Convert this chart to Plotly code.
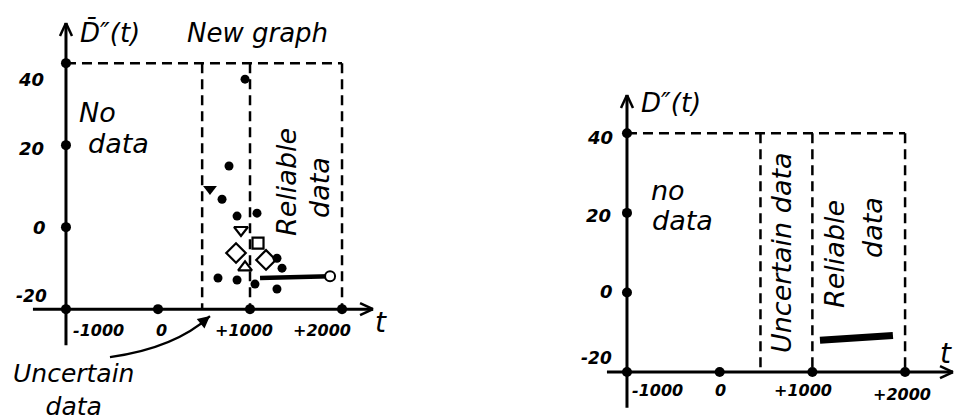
import plotly.graph_objects as go

# ---------------- data ----------------
tick_t = [-1000, 0, 1000, 2000]
tick_t_labels = ["-1000", "0", "+1000", "+2000"]
tick_d = [0, 20, 40]
tick_d_labels = ["0", "20", "40"]
base_d = -20
top_d = 40

# left panel (New graph)
left_bounds = [480, 1000, 2000]
left_dot_t = [946, 772, 696, 859, 1076, 1293, 1348, 652, 859, 1054, 1293]
left_dot_d = [36.1, 14.9, 6.8, 2.7, 3.4, -7.6, -10.0, -12.4, -12.9, -13.9, -15.1]
left_tri_fill_t = [565]
left_tri_fill_d = [9.3]
left_tri_down_t = [902]
left_tri_down_d = [-0.7]
left_square_t = [1087]
left_square_d = [-3.9]
left_diamond_t = [848, 1174]
left_diamond_d = [-6.3, -8.0]
left_tri_up_t = [946]
left_tri_up_d = [-9.8]
left_line_t = [1109, 1870]
left_line_d = [-12.4, -12.0]

# right panel
right_bounds = [440, 1000, 2000]
right_line_t = [1082, 1869]
right_line_d = [-12.0, -10.8]

W, H = 962, 419
FONT = "DejaVu Sans"
INK = "black"

fig = go.Figure()


def add_panel(xa, ya):
    fig.add_trace(go.Scatter(x=tick_t, y=[base_d] * len(tick_t), mode="markers",
                             marker=dict(size=10, color=INK), xaxis=xa, yaxis=ya,
                             showlegend=False, hoverinfo="skip"))
    fig.add_trace(go.Scatter(x=[tick_t[0]] * len(tick_d), y=tick_d, mode="markers",
                             marker=dict(size=10, color=INK), xaxis=xa, yaxis=ya,
                             showlegend=False, hoverinfo="skip"))


def dashed_box(xa, ya, bounds):
    fig.add_trace(go.Scatter(x=[tick_t[0], bounds[-1]], y=[top_d, top_d], mode="lines",
                             line=dict(color=INK, width=2.5, dash="10px,6px"),
                             xaxis=xa, yaxis=ya, showlegend=False, hoverinfo="skip"))
    for b in bounds:
        fig.add_trace(go.Scatter(x=[b, b], y=[top_d, base_d], mode="lines",
                                 line=dict(color=INK, width=2.5, dash="10px,6px"),
                                 xaxis=xa, yaxis=ya, showlegend=False, hoverinfo="skip"))


# ---- left panel ----
dashed_box("x", "y", left_bounds)
add_panel("x", "y")
fig.add_trace(go.Scatter(x=left_line_t, y=left_line_d, mode="lines",
                         line=dict(color=INK, width=4.5), showlegend=False, hoverinfo="skip"))
fig.add_trace(go.Scatter(x=left_line_t[-1:], y=left_line_d[-1:], mode="markers",
                         marker=dict(symbol="circle", size=10, color="white",
                                     line=dict(color=INK, width=2)),
                         showlegend=False, hoverinfo="skip"))
fig.add_trace(go.Scatter(x=left_dot_t, y=left_dot_d, mode="markers",
                         marker=dict(size=9, color=INK), showlegend=False, hoverinfo="skip"))
fig.add_trace(go.Scatter(x=left_tri_fill_t, y=left_tri_fill_d, mode="markers",
                         marker=dict(symbol="triangle-down", size=12, color=INK),
                         showlegend=False, hoverinfo="skip"))
open_sets = [(left_tri_down_t, left_tri_down_d, "triangle-down-open", 12),
             (left_square_t, left_square_d, "square-open", 11),
             (left_diamond_t, left_diamond_d, "diamond-open", 15),
             (left_tri_up_t, left_tri_up_d, "triangle-up-open", 12)]
for tx, dy, sym, sz in open_sets:
    fig.add_trace(go.Scatter(x=tx, y=dy, mode="markers",
                             marker=dict(symbol=sym, size=sz, color=INK, line=dict(width=2.2)),
                             showlegend=False, hoverinfo="skip"))

# ---- right panel ----
dashed_box("x2", "y2", right_bounds)
add_panel("x2", "y2")
fig.add_trace(go.Scatter(x=right_line_t, y=right_line_d, mode="lines",
                         line=dict(color=INK, width=7), xaxis="x2", yaxis="y2",
                         showlegend=False, hoverinfo="skip"))

# ---- axis ranges chosen so the panels sit where they do in the picture ----
L_RANGE_X = [-1717, 2630]
L_RANGE_Y = [-46.8, 55.4]
R_RANGE_X = [-2154, 2614]
R_RANGE_Y = [-31.8, 73.5]


def pp(px, py):
    return px / W, 1 - py / H


ann = []
shapes = []


def text(px, py, s, size, angle=0, bold=False):
    x, y = pp(px, py)
    ann.append(dict(x=x, y=y, xref="paper", yref="paper", text=s, showarrow=False,
                    textangle=angle, xanchor="center", yanchor="middle", align="center",
                    font=dict(family=FONT, size=size, color=INK, style="italic",
                              weight="bold" if bold else "normal")))


def axis_arrow(xr, yr, x0, y0, x1, y1, horizontal):
    shapes.append(dict(type="line", xref=xr, yref=yr, x0=x0, y0=y0, x1=x1, y1=y1,
                       line=dict(color=INK, width=3)))
    for s in (-1, 1):
        if horizontal:
            px0, py0, px1, py1 = 0, 0, -13, 6 * s
        else:
            px0, py0, px1, py1 = 0, 0, 6 * s, -13
        shapes.append(dict(type="line", xref=xr, yref=yr,
                           xsizemode="pixel", ysizemode="pixel",
                           xanchor=x1, yanchor=y1,
                           x0=px0, y0=py0, x1=px1, y1=py1,
                           line=dict(color=INK, width=2.5)))


# axes with arrows
axis_arrow("x", "y", -1359, base_d, 2337, base_d, True)
axis_arrow("x", "y", tick_t[0], -28.8, tick_t[0], 49.8, False)
axis_arrow("x2", "y2", -1216, base_d, 2517, base_d, True)
axis_arrow("x2", "y2", tick_t[0], -29.0, tick_t[0], 49.6, False)

# left texts
text(110, 33, "D\u0304\u2033(t)", 26)
text(257, 33, "New graph", 26)
text(97, 112, "No", 27)
text(118, 143, "data", 27)
text(286, 182, "Reliable", 27, angle=-90)
text(319, 188, "data", 27, angle=-90)
text(73, 390, "Uncertain<br>data", 25)
for px, lab in zip([98, 161, 244, 322], tick_t_labels):
    text(px, 330, lab, 16, bold=True)
for (px, py), lab in zip([(39, 227), (31, 149), (31, 80)], tick_d_labels):
    text(px, py, lab, 18, bold=True)
text(31, 296, "-20", 17, bold=True)
text(381, 322, "t", 28)

# right texts
text(671, 103, "D\u2033(t)", 26)
text(668, 190, "no", 27)
text(682, 220, "data", 27)
text(781, 253, "Uncertain data", 27, angle=-90)
text(834, 254, "Reliable", 27, angle=-90)
text(872, 228, "data", 27, angle=-90)
for (px, py), lab in zip([(657, 390), (720, 390), (803, 390), (902, 394)], tick_t_labels):
    text(px, py, lab, 16, bold=True)
for (px, py), lab in zip([(606, 291), (598, 215), (600, 138)], tick_d_labels):
    text(px, py, lab, 18, bold=True)
text(596, 358, "-20", 17, bold=True)
text(946, 353, "t", 28)

# curved arrow to the uncertain region (left panel)
shapes.append(dict(type="path", xref="x", yref="y",
                   path="M -522,-31.7 Q 185,-29.5 565,-21.7",
                   line=dict(color=INK, width=2.2)))
ann.append(dict(x=565, y=-21.7, xref="x", yref="y", ax=-11, ay=9, text="",
                showarrow=True, arrowhead=2, arrowsize=1.1, arrowwidth=2.2, arrowcolor=INK))

ax_common = dict(visible=False, fixedrange=True)
fig.update_layout(
    width=W, height=H, margin=dict(l=0, r=0, t=0, b=0),
    paper_bgcolor="white", plot_bgcolor="white",
    xaxis=dict(domain=[0, 400 / W], range=L_RANGE_X, **ax_common),
    yaxis=dict(domain=[0, 1], range=L_RANGE_Y, **ax_common),
    xaxis2=dict(domain=[520 / W, 1], range=R_RANGE_X, anchor="y2", **ax_common),
    yaxis2=dict(domain=[0, 1], range=R_RANGE_Y, anchor="x2", **ax_common),
    annotations=ann,
    shapes=shapes,
    showlegend=False,
)

fig.write_html("out.html", config={"displayModeBar": False},
               post_script="document.body.style.margin='0';document.body.style.overflow='hidden';")
